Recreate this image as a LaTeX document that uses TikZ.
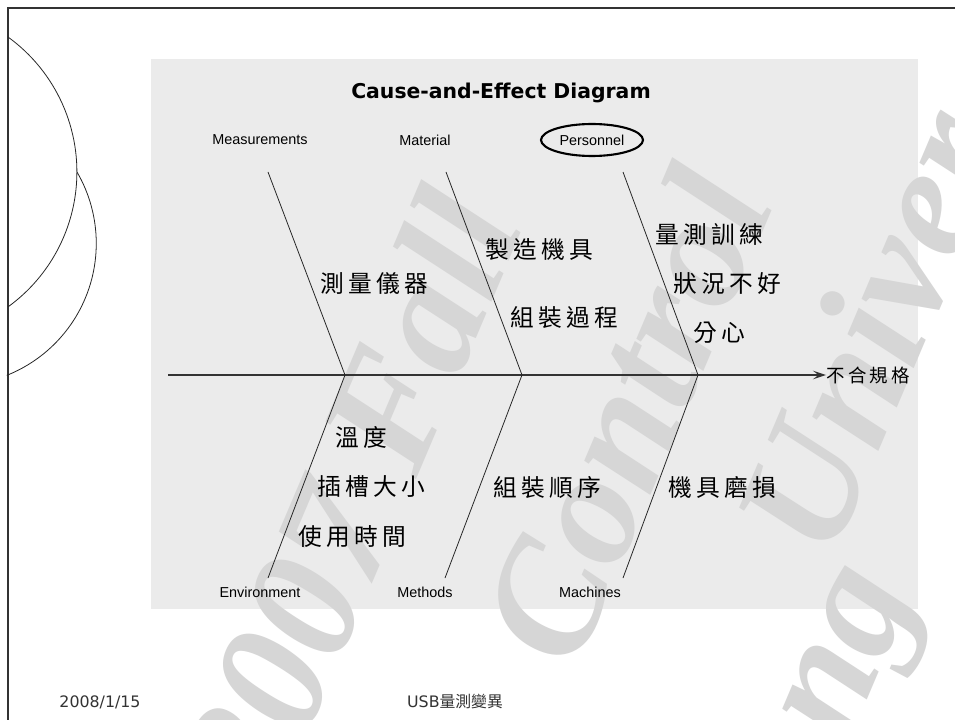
\documentclass[tikz,border=0pt]{standalone}
\usepackage{fontspec}
\setmainfont{Liberation Sans}
\newfontfamily\cjk{Noto Sans CJK TC}
\newfontfamily\cjkspaced[LetterSpace=18]{Noto Sans CJK TC}
\newfontfamily\verdanalike{DejaVu Sans}
\newfontfamily\markfont{Liberation Serif}
\usetikzlibrary{arrows.meta,positioning,shapes.geometric}
\definecolor{panelgray}{RGB}{235,235,235}
\definecolor{markgray}{RGB}{214,214,214}
\definecolor{framegray}{RGB}{50,50,50}
\tikzset{
  panel/.style={fill=panelgray,draw=none},
  heading/.style={font=\verdanalike\bfseries\fontsize{11.6}{14}\selectfont,inner sep=0pt},
  category/.style={font=\fontsize{8.2}{10}\selectfont,inner sep=0pt},
  circled/.style={category,ellipse,draw,line width=1.2pt,minimum width=20.4mm,minimum height=6.4mm},
  cause/.style={font=\cjkspaced\fontsize{13.5}{16}\selectfont,inner sep=0pt,anchor=west},
  effect/.style={font=\cjkspaced\fontsize{10.5}{12}\selectfont,inner sep=0pt,anchor=west},
  bone/.style={draw=black!85,line width=0.45pt},
  spine/.style={-{Stealth[length=2.6mm,width=1.7mm,inset=1.1mm]},draw=black!80,line width=0.6pt},
  watermark/.style={text=markgray,font=\markfont\bfseries\itshape\fontsize{92}{92}\selectfont,rotate=67,inner sep=0pt},
  footer/.style={font=\verdanalike\fontsize{9}{11}\selectfont,text=black!80,inner sep=0pt}
}

\begin{document}
\begin{tikzpicture}[x=0.2mm,y=-0.2mm]
  \useasboundingbox (0,0) rectangle (955,720);
  \clip (0,0) rectangle (955,720);
  \fill[white] (0,0) rectangle (955,720);
  \fill[panel] (151,59) rectangle (918,609);

  % faint watermark behind the chart
  \node[watermark] (wmyear) at (349,497) {2007 Fall};
  \node[watermark] (wmcourse) at (625,415) {Control};
  \node[watermark] (wmschool) at (870,330) {Univer};
  \node[watermark] (wmtail) at (862,660) {ng};

  % slide frame and arcs
  \draw[framegray,line width=0.4mm] (8,720) -- (8,8) -- (955,8);
  \draw[black!85,line width=0.45pt] (8,37) arc[start angle=-54.1,end angle=54.1,radius=166.6];
  \draw[black!85,line width=0.45pt] (77,172) arc[start angle=-30.2,end angle=68.3,radius=142];

  \node[heading] (title) at (501,93) {Cause-and-Effect Diagram};

  \node[category] (meas) at (260,140) {Measurements};
  \node[category] (matl) at (425,140) {Material};
  \node[circled] (pers) at (592,140) {Personnel};
  \node[category] (env) at (260,592) {Environment};
  \node[category] (meth) at (425,592) {Methods};
  \node[category] (mach) at (590,592) {Machines};

  \coordinate (tail) at (168,375);
  \coordinate (jmeas) at (345,375);
  \coordinate (jmatl) at (522,375);
  \coordinate (jpers) at (698,375);
  \coordinate (measend) at (268,172);
  \coordinate (matlend) at (446,172);
  \coordinate (persend) at (623,172);
  \coordinate (envend) at (268,578);
  \coordinate (methend) at (445,578);
  \coordinate (machend) at (623,578);

  \node[effect] (effect) at (826,375) {不合規格};
  \draw[spine] (tail) -- (effect.west);
  \draw[bone] (measend) -- (jmeas) -- (envend);
  \draw[bone] (matlend) -- (jmatl) -- (methend);
  \draw[bone] (persend) -- (jpers) -- (machend);

  \node[cause] (c1) at (320,283) {測量儀器};
  \node[cause] (c2) at (485,250) {製造機具};
  \node[cause] (c3) at (510,318) {組裝過程};
  \node[cause] (c4) at (655,234) {量測訓練};
  \node[cause] (c5) at (673,284) {狀況不好};
  \node[cause] (c6) at (693,333) {分心};
  \node[cause] (c7) at (335,437) {溫度};
  \node[cause] (c8) at (317,487) {插槽大小};
  \node[cause] (c9) at (298,537) {使用時間};
  \node[cause] (c10) at (493,487) {組裝順序};
  \node[cause] (c11) at (668,487) {機具磨損};

  \node[footer] (date) at (100,702) {2008/1/15};
  \node[footer] (topic) at (455,702) {USB{\cjk 量測變異}};
\end{tikzpicture}
\end{document}
